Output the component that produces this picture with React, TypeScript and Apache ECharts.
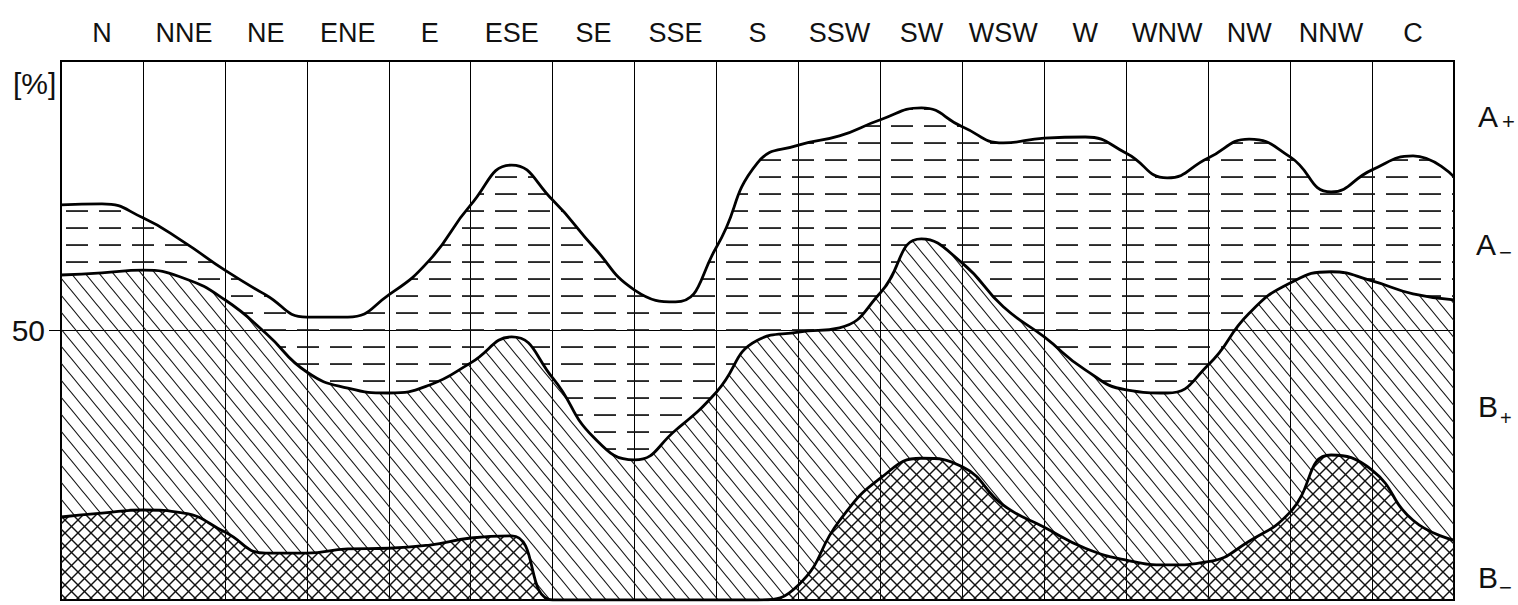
import React, { useEffect, useRef } from "react";
import * as echarts from "echarts";

// Wind directions (columns) and C = calm
const directions = ["N", "NNE", "NE", "ENE", "E", "ESE", "SE", "SSE", "S", "SSW", "SW", "WSW", "W", "WNW", "NW", "NNW", "C"];

// Sample positions along the direction scale (0 = left edge of N, 17 = right edge of C)
const positions = [0, 0.5, 1, 1.5, 2, 2.5, 3, 3.5, 4, 4.5, 5, 5.5, 6, 6.5, 7, 7.5, 8, 8.5, 9, 9.5, 10, 10.5, 11, 11.5, 12, 12.5, 13, 13.5, 14, 14.5, 15, 15.5, 16, 16.5, 17];

// Layer shares in % (stacked from bottom to top)
const bMinus = [15.4, 16.1, 16.7, 16.1, 12.6, 8.7, 8.7, 9.5, 9.6, 10.2, 11.5, 11.9, 0, 0, 0, 0, 0, 0, 2.8, 14.7, 22.6, 26.3, 24.7, 17.6, 13.5, 9.6, 7.4, 6.5, 7.1, 10.9, 16.3, 26.9, 24.1, 14.8, 11.1];
const bPlus = [44.9, 44.6, 44.5, 43.6, 43.1, 40.8, 33.6, 29.8, 28.8, 29.7, 32.5, 36.9, 41.2, 30.2, 26.0, 31.5, 38.6, 48.2, 46.9, 35.8, 34.4, 40.7, 37.8, 36.8, 35.3, 33.1, 31.6, 31.9, 36.5, 42.3, 42.5, 34.0, 35.1, 42.0, 44.6];
const aMinus = [13.0, 12.8, 9.7, 6.7, 5.5, 7.1, 10.2, 13.2, 18.2, 23.2, 29.3, 31.9, 33.0, 35.3, 31.5, 23.8, 26.9, 32.9, 34.7, 35.6, 32.1, 24.3, 25.3, 30.4, 36.9, 43.2, 43.9, 39.9, 38.4, 32.3, 23.4, 14.8, 20.6, 25.6, 22.8];
const aPlus = [26.7, 26.5, 29.1, 33.6, 38.8, 43.4, 47.5, 47.5, 43.4, 36.9, 26.7, 19.3, 25.8, 34.5, 42.5, 44.7, 34.5, 18.9, 15.6, 13.9, 10.9, 8.7, 12.2, 15.2, 14.3, 14.1, 17.1, 21.7, 18.0, 14.5, 17.8, 24.3, 20.2, 17.6, 21.5];

const yLabelValues = [50];

const FONT = '"Liberation Sans", Arial, sans-serif';

function makePattern(w: number, h: number, draw: (ctx: CanvasRenderingContext2D, w: number, h: number) => void) {
  const c = document.createElement("canvas");
  c.width = w;
  c.height = h;
  const ctx = c.getContext("2d") as CanvasRenderingContext2D;
  draw(ctx, w, h);
  return { image: c, repeat: "repeat", imageWidth: w, imageHeight: h } as any;
}

function diagonal(ctx: CanvasRenderingContext2D, w: number, h: number, dir: 1 | -1) {
  for (let k = -1; k <= 1; k++) {
    ctx.beginPath();
    if (dir === 1) {
      ctx.moveTo(k * w - w, -h);
      ctx.lineTo(k * w + 2 * w, 2 * h);
    } else {
      ctx.moveTo(k * w - w, 2 * h);
      ctx.lineTo(k * w + 2 * w, -h);
    }
    ctx.stroke();
  }
}

export default function App() {
  const ref = useRef<HTMLDivElement>(null);

  useEffect(() => {
    if (!ref.current) return;
    const chart = echarts.init(ref.current, undefined, { renderer: "svg" });

    const hatch = makePattern(14, 17, (ctx, w, h) => {
      ctx.strokeStyle = "#111";
      ctx.lineWidth = 1.1;
      diagonal(ctx, w, h, 1);
    });
    const cross = makePattern(13, 13, (ctx, w, h) => {
      ctx.strokeStyle = "#111";
      ctx.lineWidth = 1.4;
      diagonal(ctx, w, h, 1);
      diagonal(ctx, w, h, -1);
    });
    const dashes = makePattern(33, 17, (ctx) => {
      ctx.fillStyle = "#111";
      ctx.fillRect(0, 6.2, 22, 1.7);
    });

    const line = { color: "#000", width: 2.8 };

    const mkSeries = (name: string, arr: number[], fill: any, showLine = true) => ({
      name,
      type: "line",
      stack: "total",
      xAxisIndex: 1,
      smooth: 0.5,
      showSymbol: false,
      symbol: "none",
      data: arr,
      lineStyle: showLine ? line : { width: 0, opacity: 0 },
      areaStyle: fill ? { color: fill, opacity: 1 } : undefined,
      silent: true,
    });

    const txt = (text: string, x: number, y: number, size: number) => ({
      type: "text",
      x,
      y,
      silent: true,
      style: {
        text,
        font: `${size}px ${FONT}`,
        fill: "#111",
        textAlign: "left",
        textVerticalAlign: "middle",
        align: "left",
        verticalAlign: "middle",
      },
    });

    chart.setOption({
      animation: false,
      backgroundColor: "#fff",
      grid: {
        left: 61,
        right: 64,
        top: 61,
        bottom: 5,
        show: true,
        borderColor: "#000",
        borderWidth: 2,
        backgroundColor: "transparent",
      },
      xAxis: [
        {
          type: "category",
          data: directions,
          position: "top",
          boundaryGap: true,
          axisLine: { show: true, lineStyle: { color: "#000", width: 2 } },
          axisTick: { show: true, length: 9, interval: 0, lineStyle: { color: "#000", width: 1 } },
          axisLabel: { interval: 0, fontSize: 27, fontFamily: FONT, color: "#111", margin: 15 },
          splitLine: { show: true, interval: 0, lineStyle: { color: "#000", width: 1 } },
        },
        {
          type: "category",
          data: positions.map(String),
          boundaryGap: false,
          show: false,
          position: "bottom",
          splitLine: { show: false },
        },
      ],
      yAxis: {
        type: "value",
        min: 0,
        max: 100,
        interval: 50,
        axisLine: { show: true, lineStyle: { color: "#000", width: 2 } },
        axisTick: { show: true, length: 12, customValues: yLabelValues, lineStyle: { color: "#000", width: 1 } },
        axisLabel: { customValues: yLabelValues, fontSize: 30, fontFamily: FONT, color: "#111", margin: 16 },
        splitLine: { show: true, lineStyle: { color: "#000", width: 1 } },
      },
      graphic: [
        txt("[%]", 13, 83, 30),
        txt("A", 1478, 116, 30),
        txt("+", 1502, 121, 22),
        txt("A", 1476, 244, 30),
        txt("\u2212", 1499, 252, 22),
        txt("B", 1478, 406, 30),
        txt("+", 1500, 418, 20),
        txt("B", 1478, 577, 30),
        txt("\u2212", 1499, 587, 22),
      ],
      series: [
        mkSeries("B\u2212", bMinus, cross),
        mkSeries("B+", bPlus, hatch),
        mkSeries("A\u2212", aMinus, dashes),
        mkSeries("A+", aPlus, null, false),
      ],
    });

    return () => chart.dispose();
  }, []);

  return <div ref={ref} style={{ position: "absolute", left: 0, top: 0, width: 1518, height: 605 }} />;
}
